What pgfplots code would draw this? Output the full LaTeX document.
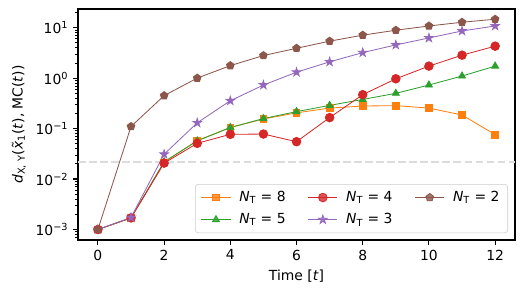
\documentclass[border=0pt]{standalone}
\usepackage{fontspec}
\setmainfont{DejaVu Sans}
\usepackage{pgfplots}
\pgfplotsset{compat=1.18}
\definecolor{cO}{HTML}{FF7F0E}
\definecolor{cG}{HTML}{2CA02C}
\definecolor{cR}{HTML}{D62728}
\definecolor{cP}{HTML}{9467BD}
\definecolor{cB}{HTML}{8C564B}
\definecolor{legedge}{HTML}{CCCCCC}
\definecolor{dashc}{HTML}{DCDCDC}
\pgfdeclareplotmark{fstar}{%
  \pgfpathmoveto{\pgfpointpolar{90}{\pgfplotmarksize}}%
  \pgfpathlineto{\pgfpointpolar{126}{0.382\pgfplotmarksize}}%
  \pgfpathlineto{\pgfpointpolar{162}{\pgfplotmarksize}}%
  \pgfpathlineto{\pgfpointpolar{198}{0.382\pgfplotmarksize}}%
  \pgfpathlineto{\pgfpointpolar{234}{\pgfplotmarksize}}%
  \pgfpathlineto{\pgfpointpolar{270}{0.382\pgfplotmarksize}}%
  \pgfpathlineto{\pgfpointpolar{306}{\pgfplotmarksize}}%
  \pgfpathlineto{\pgfpointpolar{342}{0.382\pgfplotmarksize}}%
  \pgfpathlineto{\pgfpointpolar{18}{\pgfplotmarksize}}%
  \pgfpathlineto{\pgfpointpolar{54}{0.382\pgfplotmarksize}}%
  \pgfpathclose
  \pgfusepathqfillstroke}
\begin{document}
\begin{tikzpicture}
\begin{axis}[
  at={(0,0)}, anchor=south west,
  scale only axis, width=314.6pt, height=166.3pt,
  xmin=-0.6, xmax=12.6,
  ymode=log, ymin=6.2e-4, ymax=23.4,
  xtick={0,2,...,12},
  ytick={1e-3,1e-2,1e-1,1,10},
  yticklabels={10\textsuperscript{−3},10\textsuperscript{−2},10\textsuperscript{−1},10\textsuperscript{0},10\textsuperscript{1}},
  minor ytick={7e-4,8e-4,9e-4,2e-3,3e-3,4e-3,5e-3,6e-3,7e-3,8e-3,9e-3,2e-2,3e-2,4e-2,5e-2,6e-2,7e-2,8e-2,9e-2,0.2,0.3,0.4,0.5,0.6,0.7,0.8,0.9,2,3,4,5,6,7,8,9,20},
  tick align=outside, xtick pos=bottom, ytick pos=left,
  major tick length=3.5pt, minor tick length=2pt,
  major tick style={black, line width=0.8pt},
  minor tick style={black, line width=0.6pt},
  axis line style={line width=0.8pt},
  /pgf/number format/assume math mode=true,
  tick label style={font=\fontsize{10}{12}\selectfont},
  label style={font=\fontsize{10}{12}\selectfont},
  xlabel={Time [\textit{t}]},
  ylabel={\textit{d}\textsubscript{X, Y}(\~{\textit{x}}\textsubscript{1}(\textit{t}), MC(\textit{t}))},
  legend columns=3,
  legend cell align=left,
  legend image code/.code={\draw[mark repeat=2,mark phase=2,#1] plot coordinates {(0pt,0pt) (10.5pt,0pt) (21pt,0pt)};},
  legend style={at={(0.984,0.03)}, anchor=south east, draw=legedge, rounded corners=2pt,
    fill=white, fill opacity=0.8, text opacity=1, font=\fontsize{10}{12}\selectfont,
    inner xsep=4pt, inner ysep=3pt, row sep=3pt,
    /tikz/every odd column/.append style={column sep=4pt},
    /tikz/every even column/.append style={column sep=14pt}},
]
\addplot[dashc, line width=1.5pt, dash pattern=on 5.55pt off 2.4pt, forget plot] coordinates {(-0.6,0.022) (12.6,0.022)};
\addplot[cO, line width=0.6pt, mark=square*, mark size=2.4pt, mark options={fill=cO}, forget plot] coordinates {(0,1e-3)(1,1.7e-3)(2,0.0215)(3,0.058)(4,0.105)(5,0.155)(6,0.205)(7,0.255)(8,0.28)(9,0.285)(10,0.255)(11,0.186)(12,0.076)};
\addplot[cG, line width=0.6pt, mark=triangle*, mark size=2.9pt, mark options={fill=cG}, forget plot] coordinates {(0,1e-3)(1,1.7e-3)(2,0.022)(3,0.057)(4,0.105)(5,0.158)(6,0.217)(7,0.288)(8,0.378)(9,0.5)(10,0.73)(11,1.1)(12,1.73)};
\addplot[cR, line width=0.6pt, mark=*, mark size=3.1pt, mark options={fill=cR}, forget plot] coordinates {(0,1e-3)(1,1.7e-3)(2,0.0207)(3,0.051)(4,0.077)(5,0.078)(6,0.055)(7,0.165)(8,0.47)(9,0.97)(10,1.73)(11,2.85)(12,4.3)};
\addplot[cP, line width=0.6pt, mark=fstar, mark size=3.2pt, mark options={fill=cP}, forget plot] coordinates {(0,1e-3)(1,1.73e-3)(2,0.031)(3,0.13)(4,0.356)(5,0.73)(6,1.31)(7,2.1)(8,3.2)(9,4.55)(10,6.25)(11,8.6)(12,10.8)};
\addplot[cB, line width=0.6pt, mark=pentagon*, mark size=2.9pt, mark options={fill=cB}, forget plot] coordinates {(0,1e-3)(1,0.11)(2,0.45)(3,1.0)(4,1.77)(5,2.8)(6,3.9)(7,5.4)(8,7.1)(9,8.9)(10,10.8)(11,12.8)(12,14.7)};
\addlegendimage{cO, line width=0.6pt, mark=square*, mark size=2.4pt, mark options={fill=cO}}
\addlegendentry{\textit{N}\textsubscript{T} = 8}
\addlegendimage{cR, line width=0.6pt, mark=*, mark size=3.1pt, mark options={fill=cR}}
\addlegendentry{\textit{N}\textsubscript{T} = 4}
\addlegendimage{cB, line width=0.6pt, mark=pentagon*, mark size=2.9pt, mark options={fill=cB}}
\addlegendentry{\textit{N}\textsubscript{T} = 2}
\addlegendimage{cG, line width=0.6pt, mark=triangle*, mark size=2.9pt, mark options={fill=cG}}
\addlegendentry{\textit{N}\textsubscript{T} = 5}
\addlegendimage{cP, line width=0.6pt, mark=fstar, mark size=3.2pt, mark options={fill=cP}}
\addlegendentry{\textit{N}\textsubscript{T} = 3}
\end{axis}
\pgfresetboundingbox
\useasboundingbox (-56.2pt,-40.3pt) rectangle (321.8pt,172.8pt);
\end{tikzpicture}
\end{document}
